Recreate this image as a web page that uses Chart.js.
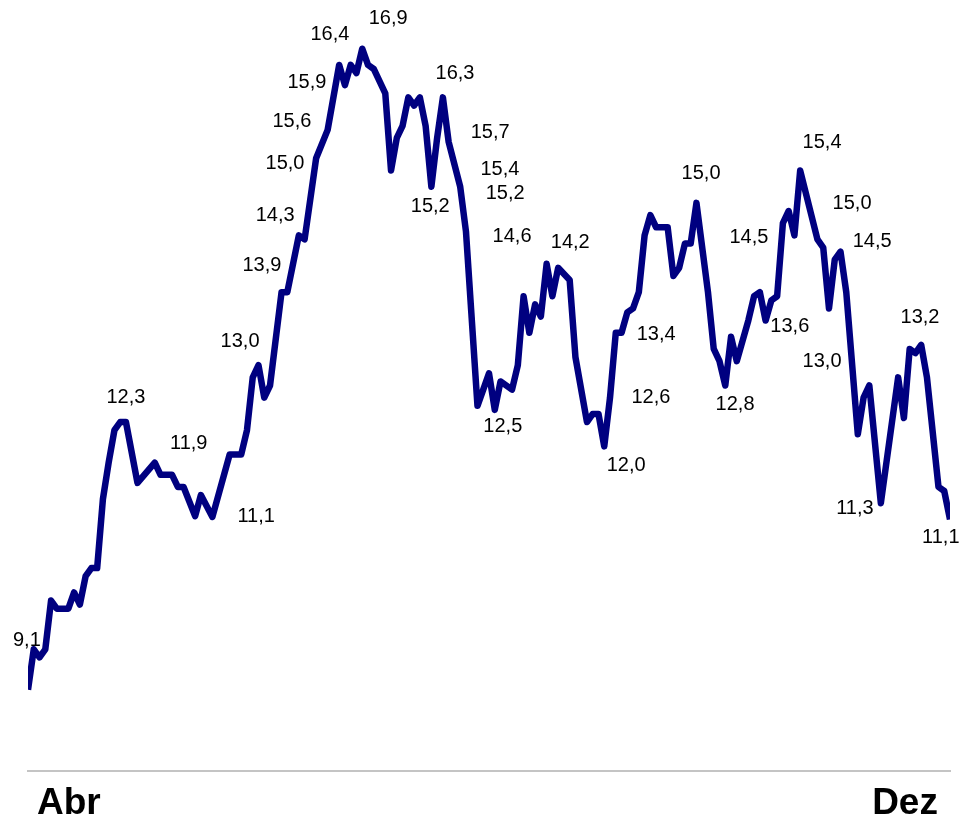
<!DOCTYPE html>
<html>
<head>
<meta charset="utf-8">
<script src="https://cdn.jsdelivr.net/npm/chart.js@4.4.1/dist/chart.umd.min.js"></script>
<style>
  body { margin: 0; background: #fff; }
  #wrap { width: 961px; height: 816px; }
</style>
</head>
<body>
<div id="wrap"><canvas id="lineChart" width="961" height="816"></canvas></div>
<script>
// trading day index (Abr -> Dez) and the value on that day
const days = [0, 1, 2, 3, 4, 5, 7, 8, 9, 10, 11, 12, 13, 14, 15, 16, 17, 19, 22, 23,
  25, 26, 27, 29, 30, 32, 35, 37, 38, 39, 40, 41, 42, 44, 45, 47, 48, 50, 52, 54,
  55, 56, 57, 58, 59, 60, 62, 63, 64, 65, 66, 67, 68, 69, 70, 71, 72, 73, 75, 76,
  78, 80, 81, 82, 84, 85, 86, 87, 88, 89, 90, 91, 92, 94, 95, 97, 98, 99, 100, 101,
  102, 103, 104, 105, 106, 107, 108, 109, 111, 112, 113, 114, 115, 116, 118, 119, 120, 121, 122, 123,
  125, 126, 127, 128, 129, 130, 131, 132, 133, 134, 137, 138, 139, 140, 141, 142, 144, 145, 146, 148,
  151, 152, 153, 154, 155, 156, 158, 159, 160];
const values = [9.0, 9.5, 9.4, 9.5, 10.1, 10.0, 10.0, 10.2, 10.05, 10.4, 10.5, 10.5, 11.35, 11.8, 12.2, 12.3, 12.3, 11.55, 11.8, 11.65,
  11.65, 11.5, 11.5, 11.14, 11.4, 11.13, 11.9, 11.9, 12.2, 12.85, 13.0, 12.6, 12.75, 13.9, 13.9, 14.6, 14.55, 15.55, 15.9, 16.7,
  16.45, 16.7, 16.6, 16.9, 16.7, 16.65, 16.35, 15.4, 15.8, 15.95, 16.3, 16.2, 16.3, 15.95, 15.2, 15.8, 16.3, 15.75, 15.2, 14.65,
  12.5, 12.9, 12.45, 12.8, 12.7, 13.0, 13.85, 13.4, 13.75, 13.6, 14.25, 13.85, 14.2, 14.05, 13.1, 12.3, 12.4, 12.4, 12.0, 12.6,
  13.4, 13.4, 13.65, 13.7, 13.9, 14.6, 14.85, 14.7, 14.7, 14.1, 14.2, 14.5, 14.5, 15.0, 13.9, 13.2, 13.05, 12.75, 13.35, 13.05,
  13.55, 13.85, 13.9, 13.55, 13.8, 13.85, 14.75, 14.9, 14.6, 15.4, 14.55, 14.45, 13.7, 14.3, 14.4, 13.9, 12.15, 12.6, 12.75, 11.3,
  12.85, 12.35, 13.2, 13.15, 13.25, 12.85, 11.5, 11.45, 11.1];

// x-axis month labels
const monthLabels = ['Abr', 'Dez'];
const monthTickDays = [7.1, 152.2];

// value labels written on the chart (text, day, level where the text sits)
const labelText = ['9,1', '12,3', '11,9', '11,1', '13,0', '13,9', '14,3', '15,0', '15,6', '15,9',
  '16,4', '16,9', '16,3', '15,2', '15,7', '15,4', '15,2', '14,6', '14,2', '12,5',
  '12,0', '13,4', '12,6', '15,0', '14,5', '12,8', '13,6', '15,4', '15,0', '14,5',
  '13,0', '11,3', '13,2', '11,1'];
const labelDay = [-0.2, 17.0, 27.9, 39.6, 36.8, 40.6, 42.9, 44.6, 45.8, 48.4,
  52.4, 62.5, 74.1, 69.8, 80.2, 81.9, 82.8, 84.0, 94.1, 82.4,
  103.8, 109.0, 108.1, 116.8, 125.1, 122.7, 132.2, 137.8, 143.0, 146.5,
  137.8, 143.5, 154.8, 158.4];
const labelLevel = [9.61, 12.60, 12.04, 11.13, 13.29, 14.23, 14.85, 15.49, 16.00, 16.48,
  17.07, 17.27, 16.60, 14.96, 15.87, 15.41, 15.12, 14.58, 14.51, 12.24,
  11.76, 13.38, 12.60, 15.36, 14.57, 12.51, 13.48, 15.74, 14.99, 14.52,
  13.04, 11.24, 13.59, 10.88];

// draw the value labels through the chart scales
const valueLabels = {
  id: 'valueLabels',
  afterDatasetsDraw(chart) {
    const ctx = chart.ctx;
    const xs = chart.scales.x;
    const ys = chart.scales.y;
    ctx.save();
    ctx.font = '20px "Liberation Sans", Arial, sans-serif';
    ctx.fillStyle = '#000';
    ctx.textAlign = 'center';
    ctx.textBaseline = 'middle';
    labelText.forEach((t, i) => {
      ctx.fillText(t, xs.getPixelForValue(labelDay[i]), ys.getPixelForValue(labelLevel[i]));
    });
    ctx.restore();
  }
};

const ctx = document.getElementById('lineChart').getContext('2d');
new Chart(ctx, {
  type: 'line',
  data: {
    datasets: [{
      data: days.map((d, i) => ({ x: d, y: values[i] })),
      borderColor: '#000080',
      borderWidth: 6.5,
      borderJoinStyle: 'round',
      pointRadius: 0,
      tension: 0,
      fill: false
    }]
  },
  options: {
    responsive: false,
    animation: false,
    // negative bottom padding lets the tick labels sit low under the axis line
    layout: { padding: { left: 28, right: 11, top: 0, bottom: -21 } },
    plugins: { legend: { display: false }, tooltip: { enabled: false } },
    scales: {
      x: {
        type: 'linear',
        min: 0,
        max: 160,
        grid: { display: false, drawTicks: false },
        border: { display: true, color: '#c4c4c4', width: 2 },
        afterBuildTicks: (axis) => {
          axis.ticks = monthTickDays.map(v => ({ value: v }));
        },
        ticks: {
          autoSkip: false,
          maxRotation: 0,
          padding: 14.5,
          color: '#000',
          font: { family: '"Liberation Sans", Arial, sans-serif', size: 37, weight: 'bold', lineHeight: 1 },
          callback: (value, index) => monthLabels[index]
        }
      },
      y: {
        display: false,
        min: 8,
        max: 17.5
      }
    }
  },
  plugins: [valueLabels]
});
</script>
</body>
</html>
